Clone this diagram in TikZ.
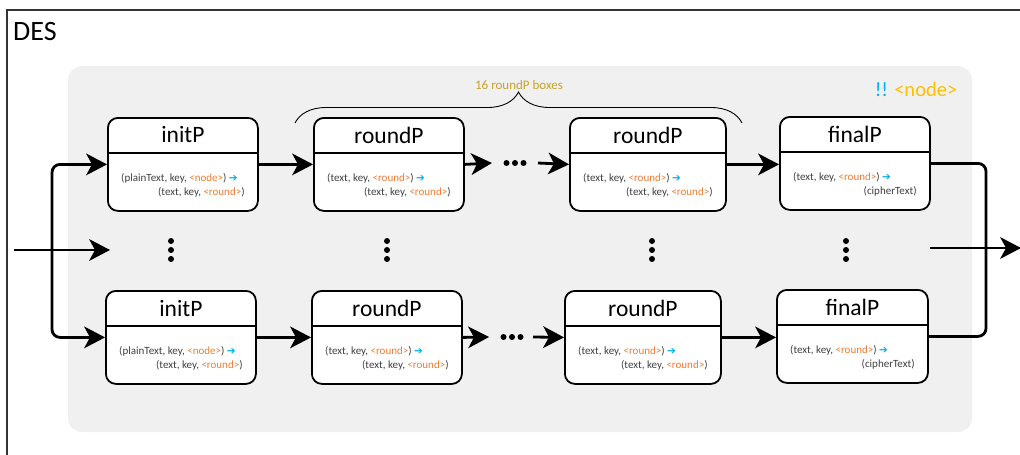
\documentclass[tikz,border=0pt]{standalone}
\usepackage{fontspec}
\setmainfont{Carlito}
\newfontfamily\symfont{DejaVu Sans}
\usetikzlibrary{arrows.meta,decorations.pathreplacing,calc}

\definecolor{panelgray}{HTML}{F0F0F0}
\definecolor{bodygray}{HTML}{404040}
\definecolor{accent}{HTML}{ED7D31}
\definecolor{arrowblue}{HTML}{00B0F0}
\definecolor{braceGold}{HTML}{C9A227}
\definecolor{nodeGold}{HTML}{FFC000}

% inline helpers for the signature lines
\newcommand\ang[1]{\textcolor{accent}{<#1>}}
\newcommand\thento{\textcolor{arrowblue}{\symfont\fontsize{10.5}{10}\selectfont ➔}}

\tikzset{
  pbox/.style={draw, line width=1.8pt, fill=white, rounded corners=10pt,
               minimum height=93pt, inner sep=0pt},
  boxline/.style={line width=1.8pt},
  titletext/.style={font=\fontsize{23.5}{25}\selectfont, inner sep=0pt},
  bodytext/.style={font=\fontsize{11}{13}\selectfont, text=bodygray, inner sep=0pt},
  bighead/.tip={Stealth[length=21pt,width=22pt,inset=6pt,line width=0pt]},
  flow/.style={line width=2.8pt, -bighead},
  wire/.style={line width=2.8pt, rounded corners=8pt},
  dotmark/.style={circle, fill=black, inner sep=0pt, minimum size=6pt},
}

% process box: name, left x, top y, width, title, first line, second line
\newcommand\procbox[7]{%
  \node[pbox, minimum width=#4pt, anchor=north west] (#1) at (#2,#3) {};
  \draw[boxline] ([yshift=-36pt]#1.north west) -- ([yshift=-36pt]#1.north east);
  \node[titletext] (#1-t) at ([yshift=-18pt]#1.north) {#5};
  \node[bodytext, anchor=base west] (#1-a) at ([xshift=14pt,yshift=-64pt]#1.north west) {#6};
  \node[bodytext, anchor=base east] (#1-b) at ([xshift=-14pt,yshift=-78pt]#1.north east) {#7};
}

% three stacked dots: prefix, x, y of the middle dot
\newcommand\stackdots[3]{%
  \node[dotmark] (#1-1) at (#2,#3-9) {};
  \node[dotmark] (#1-2) at (#2,#3) {};
  \node[dotmark] (#1-3) at (#2,#3+9) {};
}
% three dots in a row: prefix, x of the middle dot, y
\newcommand\rowdots[3]{%
  \node[dotmark] (#1-1) at (#2-8.5,#3) {};
  \node[dotmark] (#1-2) at (#2,#3) {};
  \node[dotmark] (#1-3) at (#2+8.5,#3) {};
}

\begin{document}
\begin{tikzpicture}[x=1pt,y=-1pt]
\useasboundingbox (0,0) rectangle (1020,455);

% outer frame
\draw[line width=1.4pt, draw=black!80] (7,460) -- (7,10) -- (1030,10);
\node[anchor=west, inner sep=0pt, font=\fontsize{28}{30}\selectfont] (title) at (13,32) {DES};

% shaded panel
\fill[panelgray, rounded corners=14pt] (68,66) rectangle (972,432);
\node[font=\fontsize{20.5}{22}\selectfont, inner sep=0pt] (tag) at (916,89)
  {\textcolor{arrowblue}{!!} \textcolor{nodeGold}{<node>}};

% top row
\procbox{initA}{107}{117}{150}{initP}{(plainText, key, \ang{node}) \thento}{(text, key, \ang{round})}
\procbox{roundA}{313}{117}{150}{roundP}{(text, key, \ang{round}) \thento}{(text, key, \ang{round})}
\procbox{roundB}{569}{117}{156}{roundP}{(text, key, \ang{round}) \thento}{(text, key, \ang{round})}
\procbox{finalA}{779}{116}{150}{finalP}{(text, key, \ang{round}) \thento}{(cipherText)}

% bottom row
\procbox{initB}{105}{290}{150}{initP}{(plainText, key, \ang{node}) \thento}{(text, key, \ang{round})}
\procbox{roundC}{311}{290}{150}{roundP}{(text, key, \ang{round}) \thento}{(text, key, \ang{round})}
\procbox{roundD}{564}{290}{156}{roundP}{(text, key, \ang{round}) \thento}{(text, key, \ang{round})}
\procbox{finalB}{776}{289}{151}{finalP}{(text, key, \ang{round}) \thento}{(cipherText)}

% brace over the round boxes
\draw[line width=0.9pt, decorate, decoration={brace, amplitude=31pt}]
  (295,123) coordinate (braceL) -- (742,123) coordinate (braceR);
\node[font=\fontsize{13}{15}\selectfont, text=braceGold, inner sep=0pt] (bracelabel) at (519,85) {16 roundP boxes};

% elided rows and rounds
\stackdots{vA}{171}{250}
\stackdots{vB}{387}{250}
\stackdots{vC}{652}{250}
\stackdots{vD}{846}{250}
\rowdots{hA}{515}{163}
\rowdots{hB}{512}{337}

% input
\coordinate (inL) at (14,250);
\coordinate (inR) at (110,250);
\coordinate (split) at (52,250);
\draw[flow] (inL) -- (inR);
\draw[wire] (split) |- ($(initA.west)+(-22,0)$) coordinate (initAin);
\draw[wire] (split) |- ($(initB.west)+(-22,0)$) coordinate (initBin);
\draw[flow] (initAin) -- (initA.west);
\draw[flow] (initBin) -- (initB.west);

% top chain
\coordinate (topGapL) at (492,163);
\coordinate (topGapR) at (538,163);
\draw[flow] (initA.east) -- (roundA.west);
\draw[flow] (roundA.east) -- (topGapL);
\draw[flow] (topGapR) -- (roundB.west);
\draw[flow] (roundB.east) -- (roundB.east -| finalA.west);

% bottom chain
\coordinate (botGapL) at (489,337);
\coordinate (botGapR) at (533,337);
\draw[flow] (initB.east) -- (roundC.west);
\draw[flow] (roundC.east) -- (botGapL);
\draw[flow] (botGapR) -- (roundD.west);
\draw[flow] (roundD.east) -- (roundD.east -| finalB.west);

% output
\coordinate (join) at (986,250);
\draw[wire] (finalA.east) -| (join) |- (finalB.east);
\coordinate (outL) at (930,248);
\coordinate (outR) at (1021,248);
\draw[flow] (outL) -- (outR);
\end{tikzpicture}
\end{document}
